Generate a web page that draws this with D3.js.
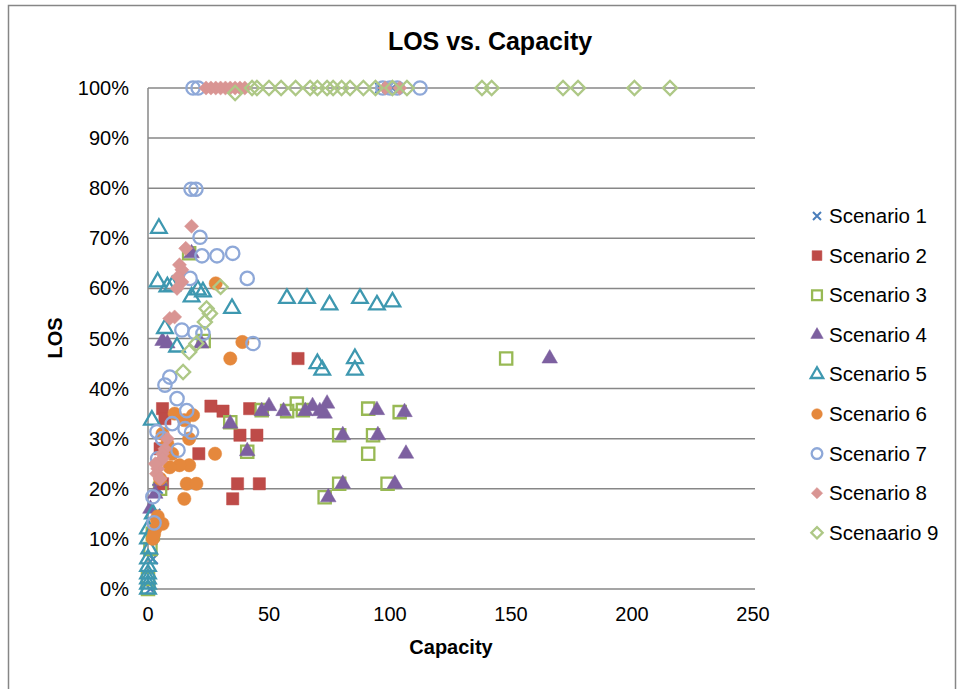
<!DOCTYPE html>
<html lang="en">
  <head>
    <meta charset="UTF-8" />
    <title>LOS vs. Capacity</title>
    <style>
      body { margin: 0; background: #fff; }
      text { font-family: "Liberation Sans", Arial, sans-serif; fill: #000; }
    </style>
  </head>
  <body>
    <div class="container"></div>
    <script src="https://d3js.org/d3.v7.min.js"></script>
    <script>
      // data: [capacity, LOS %]
      const scen1 = [[96, 100], [99, 100], [101, 100], [1, 0], [2, 6], [3, 15], [4, 20]];
      const scen2 = [[6, 36], [7, 34], [26, 36.5], [31, 35.5], [42, 36], [38, 30.7], [45, 30.7], [21, 27],
        [37, 21], [46, 21], [35, 18], [62, 46], [6, 21], [5, 28]];
      const scen3 = [[148, 46], [91, 36], [104, 35.3], [79, 30.7], [93, 30.7], [91, 27], [79, 21], [99, 21],
        [73, 18.3], [47, 35.7], [57.5, 35.5], [61.5, 37], [64, 35.7], [34, 33.3], [41, 27.4], [17, 67],
        [23, 49.5], [1, 8], [2, 11], [0, 2], [0, 0], [5, 20]];
      const scen4 = [[166, 46], [94.6, 35.7], [106, 35.3], [80.5, 30.7], [95, 30.7], [106.6, 27], [80.5, 21],
        [102, 21], [74.5, 18.3], [74, 37], [73, 35], [47, 35.5], [50, 36.5], [56, 35.5], [65, 35.5],
        [68, 36.5], [71, 35.5], [34, 33], [41, 27.5], [18, 67], [6, 49.5], [8, 49], [22, 49], [5, 21.5],
        [1, 16], [3, 19]];
      const scen5 = [[4.5, 72], [4, 61.3], [8, 60.3], [10, 60.5], [18, 58.3], [20.6, 59.7], [22.7, 59.3],
        [34.7, 56], [57.4, 58], [65.7, 58], [75, 56.7], [87.6, 58], [94.6, 56.7], [101, 57.3], [7, 52],
        [12, 48.3], [70, 45], [72, 43.7], [85.5, 46], [85.5, 43.7], [1.6, 33.7], [0, 12], [0, 10], [0.5, 8],
        [0, 6], [0, 4.5], [0, 3], [0, 2], [0, 1], [0, 0], [2, 15]];
      const scen6 = [[28, 61], [34, 46], [39, 49.3], [27.7, 27], [18.6, 34.7], [11, 35], [15, 33.7], [17, 30],
        [17, 24.7], [13, 24.7], [9, 24.3], [16, 21], [20, 21], [15, 18], [2, 10], [3, 12], [6, 13],
        [3.7, 13.8], [2.5, 11], [4, 14.5], [8, 29], [10, 27], [6, 31], [5, 22]];
      const scen7 = [[18.6, 100], [20.7, 100], [112.4, 100], [97, 100], [100, 100], [103, 100], [17.8, 79.8],
        [19.8, 79.8], [21.5, 70.2], [22.3, 66.5], [28.5, 66.5], [35, 67], [41, 62], [17.4, 62], [14, 51.7],
        [19.4, 51.2], [22.7, 51], [43.4, 49], [9, 42.3], [7, 40.7], [12, 38], [16, 35.6], [10, 33],
        [3.7, 31.4], [15.3, 32], [18, 31.3], [12.4, 27.7], [2, 18.4], [2.5, 13.2], [4, 26], [6, 30]];
      const scen8 = [[24, 100], [26, 100], [28, 100], [30, 100], [32, 100], [34, 100], [36, 100], [38, 100],
        [40, 100], [98, 100], [104, 100], [18, 72.4], [15.6, 68], [13, 64.7], [14, 63.7], [12.4, 62.3],
        [14, 61.3], [12, 60], [9, 54], [11, 54.3], [8, 30], [7, 28], [6, 27], [5, 25.5], [4, 24], [3.5, 23],
        [5, 22], [6, 26], [3, 25]];
      const scen9 = [[36, 99], [43, 100], [45, 100], [50, 100], [55, 100], [61, 100], [67, 100], [70, 100],
        [74, 100], [76.5, 100], [80, 100], [83.5, 100], [89, 100], [94, 100], [101, 100], [107, 100],
        [138, 100], [142, 100], [171.5, 100], [177.7, 100], [201, 100], [215.7, 100], [30, 60.3],
        [24.2, 56], [25.6, 55], [23.5, 53.3], [20, 49], [17, 47.3], [14.5, 43.3]];

      const names = ["Scenario 1", "Scenario 2", "Scenario 3", "Scenario 4", "Scenario 5",
        "Scenario 6", "Scenario 7", "Scenario 8", "Scenaario 9"];
      const xTicks = [0, 50, 100, 150, 200, 250];
      const yTicks = [0, 10, 20, 30, 40, 50, 60, 70, 80, 90, 100];

      const series = [
        { data: scen1, shape: "x", color: "#4A7EBB", fill: false },
        { data: scen2, shape: "square", color: "#BE4B48", fill: true },
        { data: scen3, shape: "square", color: "#98B954", fill: false },
        { data: scen4, shape: "triangle", color: "#7D60A0", fill: true },
        { data: scen5, shape: "triangle", color: "#3E98B0", fill: false },
        { data: scen6, shape: "circle", color: "#E5883C", fill: true },
        { data: scen7, shape: "circle", color: "#8EA8D8", fill: false },
        { data: scen8, shape: "diamond", color: "#D99593", fill: true },
        { data: scen9, shape: "diamond", color: "#AEC886", fill: false }
      ];

      const W = 958, H = 689;
      const svg = d3.select(".container").append("svg").attr("width", W).attr("height", H);

      // chart frame
      svg.append("rect").attr("x", 8.5).attr("y", 5.5).attr("width", 947).attr("height", 700)
        .attr("fill", "none").attr("stroke", "#868686").attr("stroke-width", 1.5);

      const x = d3.scaleLinear().domain([0, 250]).range([148, 753]);
      const y = d3.scaleLinear().domain([0, 100]).range([589, 88]);

      // gridlines
      svg.append("g").selectAll("line").data(yTicks).join("line")
        .attr("x1", x(0)).attr("x2", 755)
        .attr("y1", (d) => y(d)).attr("y2", (d) => y(d))
        .attr("stroke", "#878787").attr("stroke-width", 1.5);
      svg.append("line").attr("x1", x(0)).attr("x2", x(0)).attr("y1", y(100)).attr("y2", y(0))
        .attr("stroke", "#878787").attr("stroke-width", 1.5);

      // tick labels
      svg.append("g").selectAll("text").data(yTicks).join("text")
        .attr("x", 129).attr("y", (d) => y(d) + 7).attr("text-anchor", "end")
        .attr("font-size", 20).text((d) => d + "%");
      svg.append("g").selectAll("text").data(xTicks).join("text")
        .attr("x", (d) => x(d)).attr("y", 621).attr("text-anchor", "middle")
        .attr("font-size", 20).text((d) => d);

      // titles
      svg.append("text").attr("x", 490).attr("y", 50).attr("text-anchor", "middle")
        .attr("font-size", 25).attr("font-weight", "bold").text("LOS vs. Capacity");
      svg.append("text").attr("x", 451).attr("y", 654).attr("text-anchor", "middle")
        .attr("font-size", 20).attr("font-weight", "bold").text("Capacity");
      svg.append("text").attr("transform", "translate(62,338) rotate(-90)").attr("text-anchor", "middle")
        .attr("font-size", 20).attr("font-weight", "bold").text("LOS");

      function shapePath(shape, scale) {
        const s = scale || 1;
        if (shape === "square") return d3.symbol(d3.symbolSquare, 150 * s * s)();
        if (shape === "triangle") return d3.symbol(d3.symbolTriangle, 105 * s * s)();
        if (shape === "circle") return d3.symbol(d3.symbolCircle, 140 * s * s)();
        if (shape === "diamond") return d3.symbol(d3.symbolSquare, 100 * s * s)();
        const r = 5 * s;
        return `M${-r},${-r}L${r},${r}M${-r},${r}L${r},${-r}`;
      }

      function drawMarker(sel, sr, scale) {
        sel.attr("d", shapePath(sr.shape, scale))
          .attr("fill", sr.fill ? sr.color : (sr.shape === "x" ? "none" : "#fff"))
          .attr("fill-opacity", sr.fill ? 1 : 0)
          .attr("stroke", sr.color)
          .attr("stroke-width", sr.fill ? 0.5 : (sr.shape === "x" ? 2 : 2.3));
      }

      // points
      series.forEach((sr) => {
        const rot = sr.shape === "diamond" ? " rotate(45)" : "";
        svg.append("g").selectAll("path").data(sr.data).join("path")
          .attr("transform", (d) => `translate(${x(d[0])},${y(d[1])})${rot}`)
          .call(drawMarker, sr, 1);
      });

      // legend
      const lg = svg.append("g");
      series.forEach((sr, i) => {
        const ly = 216 + i * 39.6;
        const rot = sr.shape === "diamond" ? " rotate(45)" : "";
        lg.append("path").attr("transform", `translate(817,${ly})${rot}`).call(drawMarker, sr, 0.8);
        lg.append("text").attr("x", 829).attr("y", ly + 7).attr("font-size", 20.5).text(names[i]);
      });
    </script>
  </body>
</html>
